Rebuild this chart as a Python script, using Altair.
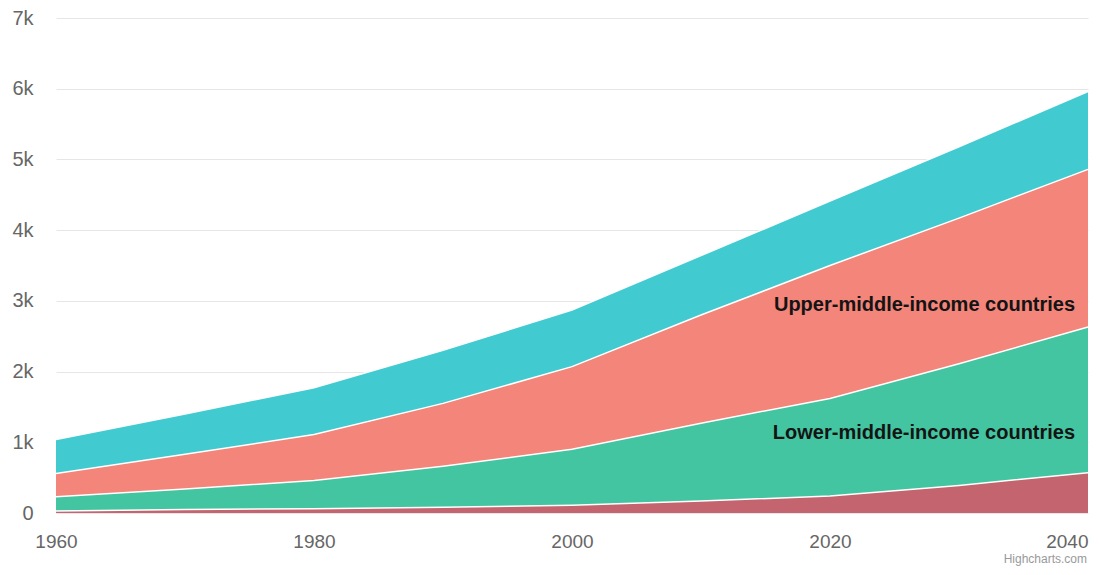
import altair as alt
import pandas as pd

years = [1960, 1970, 1980, 1990, 2000, 2010, 2020, 2030, 2040]
series = [
    "Low-income countries",
    "Lower-middle-income countries",
    "Upper-middle-income countries",
    "High-income countries",
]
low = [30, 50, 60, 80, 110, 170, 240, 390, 570]
lower_mid = [200, 290, 400, 580, 790, 1100, 1380, 1720, 2060]
upper_mid = [330, 490, 650, 890, 1170, 1530, 1880, 2060, 2230]
high = [480, 570, 660, 750, 800, 840, 910, 1010, 1100]
colors = ["#C4646F", "#44C5A1", "#F3857A", "#41CBD0"]

x_ticks = [1960, 1980, 2000, 2020, 2040]
y_ticks = [0, 1000, 2000, 3000, 4000, 5000, 6000, 7000]

label_text = ["Upper-middle-income countries", "Lower-middle-income countries"]
label_year = [2039, 2039]
label_value = [2940, 1130]

rows = []
for rank, (name, vals) in enumerate(zip(series, [low, lower_mid, upper_mid, high])):
    for yr, v in zip(years, vals):
        rows.append({"year": yr, "series": name, "value": v, "rank": rank})
df = pd.DataFrame(rows)

FONT = "Liberation Sans"

x_scale = alt.Scale(domain=[1960, 2040], nice=False, zero=False)
y_scale = alt.Scale(domain=[0, 7000], nice=False)

x_enc = alt.X(
    "year:Q",
    scale=x_scale,
    axis=alt.Axis(
        values=x_ticks, format="d", title=None, grid=False, ticks=False,
        domain=False, labelPadding=19, labelFontSize=19,
        labelAlign={"condition": {"test": "datum.value == 2040", "value": "right"}, "value": "center"},
    ),
)
y_enc = alt.Y(
    "y0:Q",
    scale=y_scale,
    axis=alt.Axis(
        values=y_ticks, title=None, ticks=False, domain=False,
        labelExpr="datum.value == 0 ? '0' : (datum.value / 1000) + 'k'",
        labelPadding=23, gridColor="#e6e6e6",
    ),
)

base = alt.Chart(df).transform_stack(
    stack="value", groupby=["year"], as_=["y0", "y1"],
    sort=[alt.SortField("rank", order="ascending")],
)

areas = base.mark_area(opacity=1).encode(
    x=x_enc,
    y=y_enc,
    y2="y1:Q",
    color=alt.Color("series:N", scale=alt.Scale(domain=series, range=colors), legend=None),
    detail="series:N",
)

lines = base.mark_line(color="white", strokeWidth=1.5).encode(
    x=alt.X("year:Q", scale=x_scale),
    y=alt.Y("y1:Q", scale=y_scale),
    detail="series:N",
)

labels_df = pd.DataFrame({"t": label_text, "year": label_year, "value": label_value})
labels = alt.Chart(labels_df).mark_text(
    align="right", baseline="middle", font=FONT, fontSize=20, fontWeight="bold", color="#141414"
).encode(
    x=alt.X("year:Q", scale=x_scale),
    y=alt.Y("value:Q", scale=y_scale),
    text="t:N",
)

credit = alt.Chart(pd.DataFrame({"t": ["Highcharts.com"]})).mark_text(
    align="right", baseline="bottom", font=FONT, fontSize=12, color="#999999"
).encode(text="t:N", x=alt.value(1031), y=alt.value(548))

chart = alt.layer(areas, lines, labels, credit).properties(
    width=1032, height=495,
    autosize=alt.AutoSizeParams(type="none"),
    padding={"left": 48, "top": 10, "right": 3, "bottom": 54},
).configure_view(stroke=None).configure_axis(
    labelFont=FONT, labelFontSize=20, labelColor="#666666"
)

chart.save("out.html", embed_options={"renderer": "svg", "actions": False})
